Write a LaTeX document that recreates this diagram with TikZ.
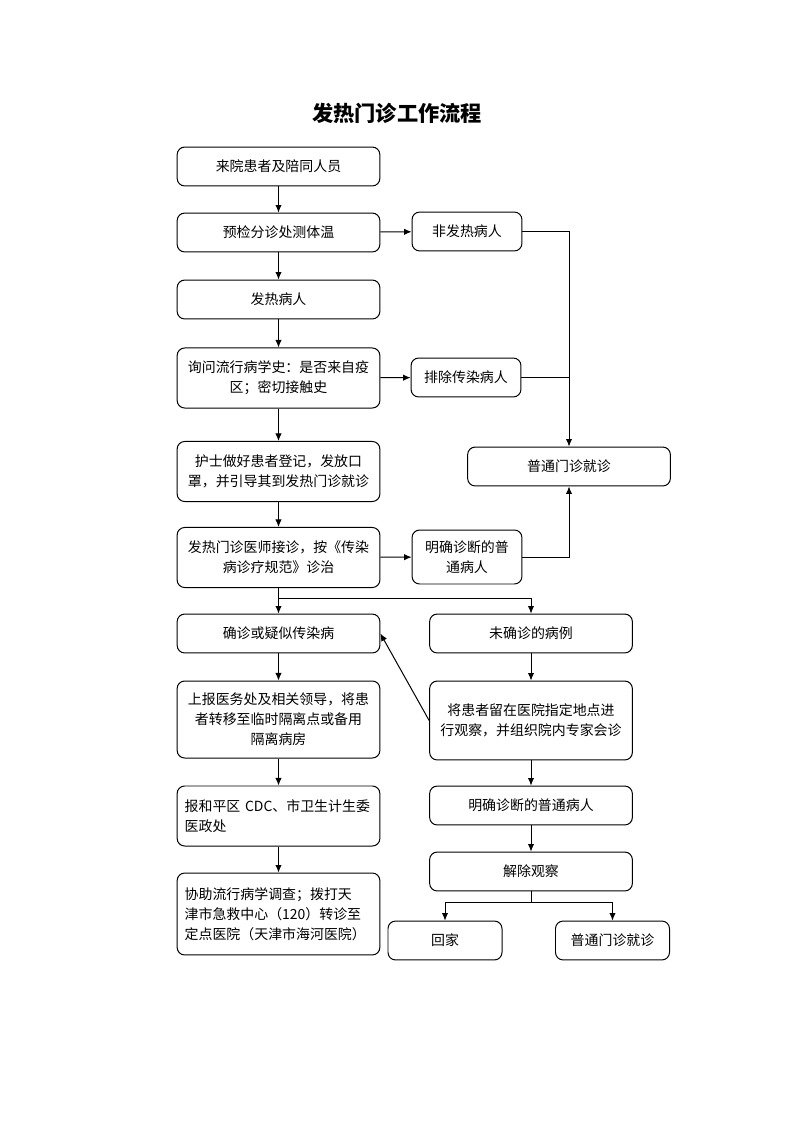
\documentclass[tikz,border=0pt]{standalone}
\usepackage{fontspec}
\setmainfont{Noto Sans CJK SC}
\usepackage{tikz}
\usetikzlibrary{arrows.meta, positioning}
\tikzset{%
  block/.style={rectangle, draw, line width=0.75pt, align=center, rounded corners=0.2cm,
    minimum width=5.37cm, minimum height=1.03cm, inner sep=2pt,
    font=\fontsize{10.5}{15}\selectfont},
  leftblock/.style={block, align=left, text width=4.97cm, inner xsep=0.2cm},
  smallblock/.style={block, minimum width=2.91cm},
  line/.style={draw, line width=0.75pt, -{Latex[length=2mm, width=1.7mm]}},
  joint/.style={draw, line width=0.75pt}}

\begin{document}
\begin{tikzpicture}[x=0.026482cm, y=-0.026482cm]
    \useasboundingbox (0, 0) rectangle (793, 1122);

    \node [font=\bfseries\fontsize{16}{16}\selectfont] (title) at (397, 113) {发热门诊工作流程};

    % left column
    \node [block] (arrive) at (278.5, 166.5) {来院患者及陪同人员};
    \node [block] (triage) at (278.5, 232.5) {预检分诊处测体温};
    \node [block] (fever) at (278.5, 299.5) {发热病人};
    \node [block, minimum height=1.59cm] (history) at (278.5, 378) {询问流行病学史：是否来自疫\\区；密切接触史};
    \node [block, minimum height=1.59cm] (nurse) at (278.5, 471.5) {护士做好患者登记，发放口\\罩，并引导其到发热门诊就诊};
    \node [block, minimum height=1.59cm] (doctor) at (278.5, 557.5) {发热门诊医师接诊，按《传染\\病诊疗规范》诊治};

    % right column, top part
    \node [smallblock] (nofever) at (467, 231.5) {非发热病人};
    \node [smallblock] (exclude) at (466, 377.5) {排除传染病人};
    \node [block] (general) at (569, 466.5) {普通门诊就诊};
    \node [smallblock, minimum height=1.43cm] (clear) at (467, 557) {明确诊断的普\\通病人};

    \path [line] (arrive) -- (triage);
    \path [line] (triage) -- (fever);
    \path [line] (fever) -- (history);
    \path [line] (history) -- (nurse);
    \path [line] (nurse) -- (doctor);

    \path [line] (triage) -- (nofever);
    \path [line] (history) -- (exclude);
    \path [line] (doctor) -- (clear);
    \path [line] (nofever.east) -| (general.north);
    \path [joint] (exclude.east) -- (exclude.east -| general.north);
    \path [line] (clear.east) -| (general.south);

    % split after diagnosis
    \coordinate (fork) at (278.5, 598);
    \node [block] (confirm) at (278.5, 633.5) {确诊或疑似传染病};
    \node [block] (unconfirm) at (531, 633.5) {未确诊的病例};
    \path [joint] (doctor) -- (fork);
    \path [line] (fork) -- (confirm);
    \path [line] (fork) -| (unconfirm.north);

    \node [block, minimum height=2.04cm] (report) at (278.5, 719.5) {上报医务处及相关领导，将患\\者转移至临时隔离点或备用\\隔离病房};
    \node [leftblock, minimum height=1.59cm] (cdc) at (278.5, 816) {报和平区~CDC、市卫生计生委\\医政处};
    \node [leftblock, minimum height=2.17cm] (assist) at (278.5, 914) {协助流行病学调查；拨打天\\津市急救中心（120）转诊至\\定点医院（天津市海河医院）};

    \path [line] (confirm) -- (report);
    \path [line] (report) -- (cdc);
    \path [line] (cdc) -- (assist);

    \node [block, minimum height=2.09cm] (observe) at (531, 720.5) {将患者留在医院指定地点进\\行观察，并组织院内专家会诊};
    \node [block] (normal) at (531, 805.5) {明确诊断的普通病人};
    \node [block] (release) at (531, 871.5) {解除观察};

    \path [line] (unconfirm) -- (observe);
    \path [line] (observe.west) -- (confirm.east);
    \path [line] (observe) -- (normal);
    \path [line] (normal) -- (release);

    \coordinate (fork2) at (531, 902);
    \node [block, minimum width=3.02cm] (home) at (445, 940.5) {回家};
    \node [block, minimum width=3.02cm] (clinic) at (612.5, 940.5) {普通门诊就诊};
    \path [joint] (release) -- (fork2);
    \path [line] (fork2) -| (home.north);
    \path [line] (fork2) -| (clinic.north);
\end{tikzpicture}
\end{document}
